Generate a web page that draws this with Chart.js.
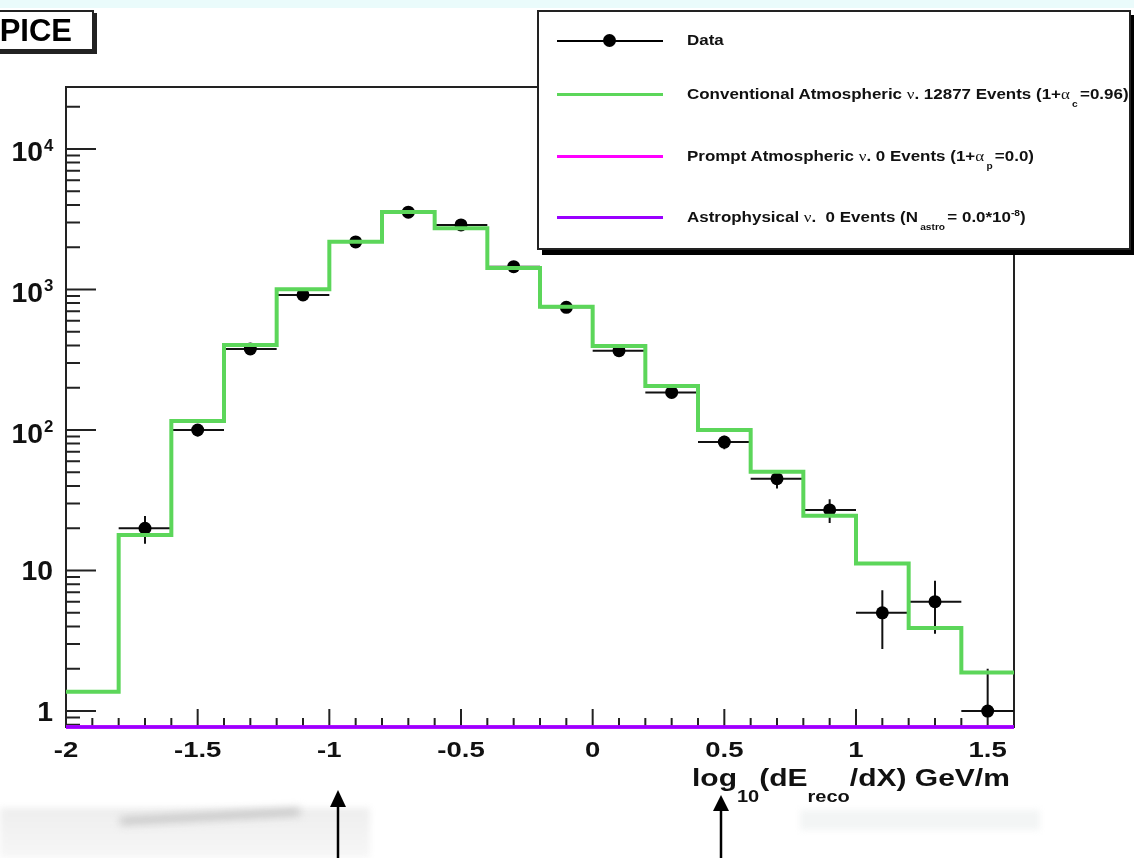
<!DOCTYPE html>
<html>
<head>
<meta charset="utf-8">
<script src="https://cdn.jsdelivr.net/npm/chart.js@4.4.1/dist/chart.umd.min.js"></script>
<style>
  html, body { margin: 0; padding: 0; background: #fff; }
  body { width: 1134px; height: 858px; position: relative; overflow: hidden;
         font-family: "Liberation Sans", Arial, sans-serif; }
  #topband { position: absolute; left: 0; top: 0; width: 1134px; height: 8px; background: #eafbfb; }
  #chart { position: absolute; left: 0; top: 0; }
  #tag { position: absolute; left: -30px; top: 10px; width: 120px; height: 37px;
         border: 2px solid #222; background: #fff; box-shadow: 3px 3px 0 #222;
         font-weight: bold; font-size: 31px; line-height: 37px; }
  #tag span { position: absolute; right: 20px; top: 0; }
  #legend { position: absolute; left: 537px; top: 10px; width: 590px; height: 236px;
            border: 2px solid #222; background: #fff; box-shadow: 5px 5px 0 #000; }
  .row { position: absolute; left: 0; width: 100%; height: 20px; }
  .sample { position: absolute; left: 18px; width: 106px; top: 9px; height: 3px; }
  .dot { position: absolute; left: 46px; top: -6px; width: 13px; height: 13px;
         border-radius: 50%; background: #000; }
  .txt { position: absolute; left: 148px; top: 0; white-space: nowrap;
         font-weight: bold; font-size: 15px; line-height: 20px; color: #111;
         transform: scaleX(1.13); transform-origin: left center; }
  .gr { font-family: "Liberation Serif", "DejaVu Serif", serif; font-weight: normal; font-size: 15px; }
  .sub { font-size: 9px; position: relative; top: 8px; padding: 0 2px; }
  .sup { font-size: 9px; position: relative; top: -6px; }
  #smudge1 { position: absolute; left: 0; top: 808px; width: 370px; height: 50px;
             background: linear-gradient(#eeeeee, #f7f7f7); filter: blur(3px); }
  #smudge2 { position: absolute; left: 120px; top: 813px; width: 180px; height: 7px;
             background: #c2c2c2; filter: blur(4px); transform: rotate(-3deg); }
  #smudge3 { position: absolute; left: 800px; top: 810px; width: 240px; height: 20px;
             background: #f3f5f5; filter: blur(3px); }
  #arrows { position: absolute; left: 0; top: 0; }
</style>
</head>
<body>
<div id="topband"></div>
<div id="smudge1"></div>
<div id="smudge2"></div>
<div id="smudge3"></div>
<canvas id="chart" width="1134" height="858"></canvas>
<div id="tag"><span>PICE</span></div>
<div id="legend">
  <div class="row" style="top:18px">
    <div class="sample" style="background:#000;height:2px;top:10px"><div class="dot"></div></div>
    <div class="txt">Data</div>
  </div>
  <div class="row" style="top:72px">
    <div class="sample" style="background:#5cd65a"></div>
    <div class="txt">Conventional Atmospheric <span class="gr">ν</span>. 12877 Events (1+<span class="gr">α</span><span class="sub">c</span>=0.96)</div>
  </div>
  <div class="row" style="top:134px">
    <div class="sample" style="background:#ff00ff"></div>
    <div class="txt">Prompt Atmospheric <span class="gr">ν</span>. 0 Events (1+<span class="gr">α</span><span class="sub">p</span>=0.0)</div>
  </div>
  <div class="row" style="top:195px">
    <div class="sample" style="background:#9900ff"></div>
    <div class="txt">Astrophysical <span class="gr">ν</span>.&nbsp; 0 Events (N<span class="sub">astro</span>= 0.0*10<span class="sup">-8</span>)</div>
  </div>
</div>
<svg id="arrows" width="1134" height="858">
  <line x1="338" y1="804" x2="338" y2="858" stroke="#000" stroke-width="2.5"/>
  <polygon points="338,790 330,807 346,807" fill="#000"/>
  <line x1="721" y1="808" x2="721" y2="858" stroke="#000" stroke-width="2.5"/>
  <polygon points="721,795 713,811 729,811" fill="#000"/>
</svg>
<script>
// histogram binning, log10(dE/dX) in GeV/m
const BIN_EDGES = [-2.0, -1.8, -1.6, -1.4, -1.2, -1.0, -0.8, -0.6, -0.4, -0.2,
                   0.0, 0.2, 0.4, 0.6, 0.8, 1.0, 1.2, 1.4, 1.6];
// conventional atmospheric MC, one value per bin
const MC_CONV = [1.37, 17.9, 116, 403, 1003, 2188, 3563, 2727, 1422, 754,
                 396, 206, 100, 50.5, 24.5, 11.2, 3.9, 1.88];
const MC_PROMPT = [0, 0, 0, 0, 0, 0, 0, 0, 0, 0, 0, 0, 0, 0, 0, 0, 0, 0];
const MC_ASTRO = [0, 0, 0, 0, 0, 0, 0, 0, 0, 0, 0, 0, 0, 0, 0, 0, 0, 0];
// data counts at bin centres (empty first bin left out)
const DATA_X = [-1.7, -1.5, -1.3, -1.1, -0.9, -0.7, -0.5, -0.3, -0.1,
                0.1, 0.3, 0.5, 0.7, 0.9, 1.1, 1.3, 1.5];
const DATA_N = [20, 100, 377, 914, 2180, 3550, 2878, 1453, 747,
                367, 185, 82, 45, 27, 5, 6, 1];

const X_TICK_VALUES = [-2, -1.5, -1, -0.5, 0, 0.5, 1, 1.5];
const X_TICK_LABELS = ['-2', '-1.5', '-1', '-0.5', '0', '0.5', '1', '1.5'];
const Y_TICK_VALUES = [1, 10, 100, 1000, 10000];
const Y_TICK_BASES = ['1', '10', '10', '10', '10'];
const Y_TICK_EXPS = ['', '', '2', '3', '4'];

const X_MIN = -2, X_MAX = 1.6;
const Y_MIN = 0.77, Y_MAX = 27600;
const BIN_WIDTH = 0.2;

function stepPoints(vals) {
  // empty bins sit on the axis floor, as ROOT draws them on a log scale
  const pts = vals.map((v, i) => ({ x: BIN_EDGES[i], y: v > 0 ? v : Y_MIN }));
  pts.push({ x: BIN_EDGES[BIN_EDGES.length - 1], y: pts[pts.length - 1].y });
  return pts;
}

function stretchedText(ctx, text, x, y, sx, align) {
  const w = ctx.measureText(text).width * sx;
  let left = x;
  if (align === 'center') left = x - w / 2;
  if (align === 'right') left = x - w;
  ctx.save();
  ctx.translate(left, y);
  ctx.scale(sx, 1);
  ctx.textAlign = 'left';
  ctx.fillText(text, 0, 0);
  ctx.restore();
  return w;
}

const rootFrame = {
  id: 'rootFrame',
  beforeDatasetsDraw(chart) {
    const { ctx, chartArea: a, scales: { x, y } } = chart;
    ctx.save();

    // frame
    ctx.strokeStyle = '#222';
    ctx.lineWidth = 2;
    ctx.strokeRect(a.left, a.top, a.right - a.left, a.bottom - a.top);

    // x ticks (inward)
    ctx.beginPath();
    for (let k = -20; k <= 16; k++) {
      const px = x.getPixelForValue(k / 10);
      const len = k % 5 === 0 ? 18 : 9;
      ctx.moveTo(px, a.bottom);
      ctx.lineTo(px, a.bottom - len);
    }
    // y ticks (inward)
    for (let d = -1; d <= 4; d++) {
      for (let m = 1; m <= 9; m++) {
        const v = m * Math.pow(10, d);
        if (v < Y_MIN || v > Y_MAX) continue;
        const py = y.getPixelForValue(v);
        ctx.moveTo(a.left, py);
        ctx.lineTo(a.left + (m === 1 ? 30 : 14), py);
      }
    }
    ctx.stroke();

    // x labels
    ctx.fillStyle = '#111';
    ctx.textBaseline = 'alphabetic';
    ctx.font = 'bold 22px "Liberation Sans", Arial, sans-serif';
    X_TICK_VALUES.forEach((v, i) => {
      stretchedText(ctx, X_TICK_LABELS[i], x.getPixelForValue(v), 757, 1.25, 'center');
    });

    // y labels
    Y_TICK_VALUES.forEach((v, i) => {
      const py = y.getPixelForValue(v);
      const exp = Y_TICK_EXPS[i];
      ctx.font = 'bold 27px "Liberation Sans", Arial, sans-serif';
      if (!exp) {
        stretchedText(ctx, Y_TICK_BASES[i], 53, py + 9.5, 1.05, 'right');
      } else {
        stretchedText(ctx, Y_TICK_BASES[i], 43, py + 12.5, 1.05, 'right');
        ctx.font = 'bold 16px "Liberation Sans", Arial, sans-serif';
        stretchedText(ctx, exp, 44, py + 2, 1.05, 'left');
      }
    });

    // x axis title
    let tx = 692;
    const big = 'bold 24px "Liberation Sans", Arial, sans-serif';
    const small = 'bold 16px "Liberation Sans", Arial, sans-serif';
    ctx.font = big;   tx += stretchedText(ctx, 'log', tx, 786, 1.25, 'left');
    ctx.font = small; tx += stretchedText(ctx, '10', tx, 802, 1.25, 'left');
    ctx.font = big;   tx += stretchedText(ctx, '(dE', tx, 786, 1.25, 'left');
    ctx.font = small; tx += stretchedText(ctx, 'reco', tx, 802, 1.25, 'left');
    ctx.font = big;   stretchedText(ctx, '/dX) GeV/m', tx, 786, 1.25, 'left');

    // data error bars: bin width horizontally, sqrt(N) vertically
    ctx.strokeStyle = '#111';
    ctx.lineWidth = 2;
    ctx.beginPath();
    DATA_X.forEach((xv, i) => {
      const n = DATA_N[i];
      const e = Math.sqrt(n);
      const px = x.getPixelForValue(xv);
      const py = y.getPixelForValue(n);
      ctx.moveTo(x.getPixelForValue(xv - BIN_WIDTH / 2), py);
      ctx.lineTo(x.getPixelForValue(xv + BIN_WIDTH / 2), py);
      ctx.moveTo(px, y.getPixelForValue(n + e));
      const lo = n - e;
      ctx.lineTo(px, lo > 0 ? Math.min(y.getPixelForValue(lo), a.bottom) : py);
    });
    ctx.stroke();
    ctx.restore();
  }
};

new Chart(document.getElementById('chart'), {
  type: 'scatter',
  data: {
    datasets: [
      {
        label: 'Astrophysical',
        data: stepPoints(MC_ASTRO),
        showLine: true, stepped: true,
        borderColor: '#9900ff', borderWidth: 3.5,
        pointRadius: 0, clip: false, order: 0,
      },
      {
        label: 'Prompt Atmospheric',
        data: stepPoints(MC_PROMPT),
        showLine: true, stepped: true,
        borderColor: '#ff00ff', borderWidth: 3.5,
        pointRadius: 0, clip: false, order: 1,
      },
      {
        label: 'Conventional Atmospheric',
        data: stepPoints(MC_CONV),
        showLine: true, stepped: true,
        borderColor: '#5cd65a', borderWidth: 4,
        pointRadius: 0, order: 2,
      },
      {
        label: 'Data',
        data: DATA_X.map((xv, i) => ({ x: xv, y: DATA_N[i] })),
        showLine: false,
        pointRadius: 6.5, pointHoverRadius: 6.5,
        pointBackgroundColor: '#000', pointBorderWidth: 0,
        order: 3,
      },
    ],
  },
  options: {
    responsive: false,
    animation: false,
    devicePixelRatio: 1,
    layout: { padding: { left: 66, top: 87, right: 120, bottom: 131 } },
    scales: {
      x: { type: 'linear', min: X_MIN, max: X_MAX, display: false },
      y: { type: 'logarithmic', min: Y_MIN, max: Y_MAX, display: false },
    },
    plugins: {
      legend: { display: false },
      tooltip: { enabled: false },
    },
  },
  plugins: [rootFrame],
});
</script>
</body>
</html>
